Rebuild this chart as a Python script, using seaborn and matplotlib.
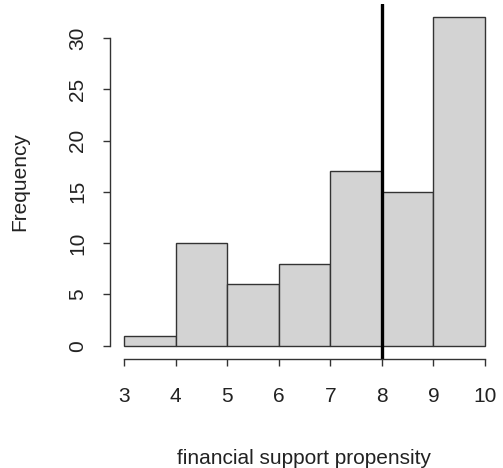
import numpy as np
import pandas as pd
import matplotlib
matplotlib.use('Agg')
import matplotlib.pyplot as plt
import seaborn as sns

# Histogram counts
bin_edges = [3, 4, 5, 6, 7, 8, 9, 10]
bin_mids = [3.5, 4.5, 5.5, 6.5, 7.5, 8.5, 9.5]
counts = [1, 10, 6, 8, 17, 15, 32]
cutoff = 8
x_ticks = [3, 4, 5, 6, 7, 8, 9, 10]
y_ticks = [0, 5, 10, 15, 20, 25, 30]

df = pd.DataFrame({'propensity': bin_mids, 'n': counts})

sns.set_style('white')
plt.rcParams['font.family'] = ['Liberation Sans', 'DejaVu Sans']

fig = plt.figure(figsize=(5.03, 4.68), dpi=100)
ax = fig.add_axes([0.2177, 0.233, 0.7753, 0.758])

sns.histplot(data=df, x='propensity', weights='n', bins=bin_edges,
             color='#d3d3d3', edgecolor='#333333', linewidth=1.0,
             alpha=1, ax=ax)
ax.axvline(cutoff, color='black', linewidth=2.4)

# R-style plot region: 4% padding around data range
ax.set_xlim(2.72, 10.28)
ax.set_ylim(-1.28, 33.28)

for s in ['top', 'right']:
    ax.spines[s].set_visible(False)
ax.spines['left'].set_bounds(0, 30)
ax.spines['bottom'].set_bounds(3, 10)
for s in ['left', 'bottom']:
    ax.spines[s].set_color('#333333')
    ax.spines[s].set_linewidth(1.0)

ax.set_xticks(x_ticks)
ax.set_yticks(y_ticks)
ax.tick_params(axis='both', direction='out', length=5, width=1.0,
               bottom=True, left=True,
               color='#333333', labelsize=15, labelcolor='#222222')
ax.tick_params(axis='x', pad=15)
ax.tick_params(axis='y', pad=11)
plt.setp(ax.get_yticklabels(), rotation=90, va='center')

ax.set_xlabel('financial support propensity', fontsize=15, color='#222222')
ax.set_ylabel('Frequency', fontsize=15, color='#222222')
ax.xaxis.set_label_coords(0.5, -0.255)
ax.yaxis.set_label_coords(-0.205, 0.5)

fig.savefig('out.png', dpi=100)
